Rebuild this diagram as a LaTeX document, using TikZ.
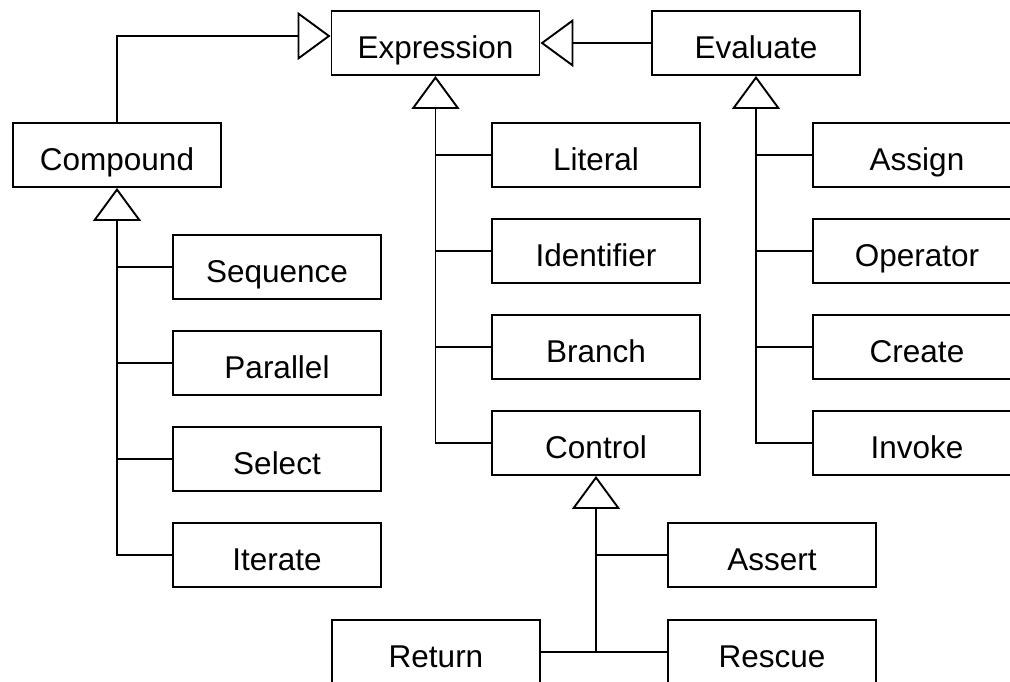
\documentclass[tikz,border=0pt]{standalone}
\usepackage{fontspec}
\setmainfont{Liberation Sans}
\usetikzlibrary{arrows.meta}
\begin{document}
\begin{tikzpicture}[x=1pt,y=-1pt,
  cls/.style={draw,line width=1.9pt,rectangle,minimum width=208pt,minimum height=64pt,inner sep=0pt,
    text height=30pt,text depth=0pt,font=\fontsize{31.5}{37}\selectfont},
  conn/.style={line width=1.9pt},
  inh/.style={line width=1.9pt,-{Triangle[open,length=33pt,width=48pt]}}]
\useasboundingbox (0,0) rectangle (1010,681);
\clip (0,0) rectangle (1010,681);
% top row
\node[cls] (expr) at (435.5,43) {Expression};
\node[cls] (eval) at (756,43) {Evaluate};
\node[cls] (comp) at (117,155) {Compound};
% expression children
\node[cls] (lit) at (596,155) {Literal};
\node[cls] (ident) at (596,251) {Identifier};
\node[cls] (branch) at (596,347) {Branch};
\node[cls] (ctrl) at (596,443) {Control};
% evaluate children
\node[cls] (assign) at (917,155) {Assign};
\node[cls] (oper) at (917,251) {Operator};
\node[cls] (create) at (917,347) {Create};
\node[cls] (invoke) at (917,443) {Invoke};
% compound children
\node[cls] (seq) at (277,267) {Sequence};
\node[cls] (par) at (277,363) {Parallel};
\node[cls] (sel) at (277,459) {Select};
\node[cls] (iter) at (277,555) {Iterate};
% control children
\node[cls] (assert) at (772,555) {Assert};
\node[cls] (ret) at (436,652) {Return};
\node[cls] (resc) at (772,652) {Rescue};
% connectors
\draw[inh] (comp.north) |- ([yshift=7pt]expr.west);
\draw[inh] (eval.west) -- (expr.east);
% expression tree
\draw[inh] (ctrl.west) -| (expr.south);
\draw[conn] (lit.west) -- (lit.west -| expr.south);
\draw[conn] (ident.west) -- (ident.west -| expr.south);
\draw[conn] (branch.west) -- (branch.west -| expr.south);
% evaluate tree
\draw[inh] (invoke.west) -| (eval.south);
\draw[conn] (assign.west) -- (assign.west -| eval.south);
\draw[conn] (oper.west) -- (oper.west -| eval.south);
\draw[conn] (create.west) -- (create.west -| eval.south);
% compound tree
\draw[inh] (iter.west) -| (comp.south);
\draw[conn] (seq.west) -- (seq.west -| comp.south);
\draw[conn] (par.west) -- (par.west -| comp.south);
\draw[conn] (sel.west) -- (sel.west -| comp.south);
% control tree
\draw[conn] (ret.east) -- (resc.west);
\draw[inh] (ret.east -| ctrl.south) -- (ctrl.south);
\draw[conn] (assert.west) -- (assert.west -| ctrl.south);
\end{tikzpicture}
\end{document}
